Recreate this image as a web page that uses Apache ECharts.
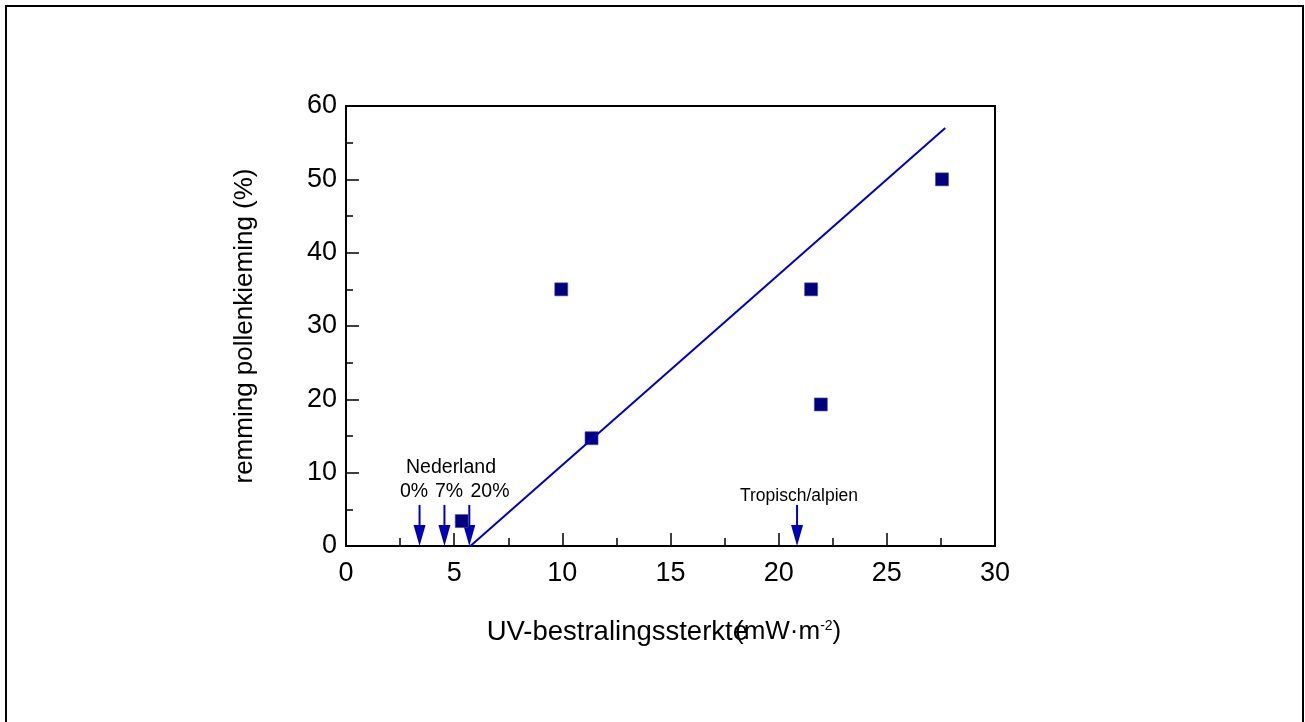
<!DOCTYPE html>
<html>
<head>
<meta charset="utf-8">
<style>
  html, body { margin: 0; padding: 0; background: #fff; }
  #chart { width: 1305px; height: 722px; }
</style>
<script src="https://cdn.jsdelivr.net/npm/echarts@6/dist/echarts.min.js"></script>
</head>
<body>
<div id="chart"></div>
<script>
// measured points (UV irradiance, inhibition %)
var uvValues = [5.35, 9.95, 11.35, 21.5, 21.95, 27.55];
var inhibition = [3.4, 35, 14.7, 35, 19.3, 50];
// fitted line end points
var fitX = [5.75, 27.7];
var fitY = [0, 57];
// arrows on the x axis
var arrowX = [3.4, 4.55, 5.7, 20.85];
var arrowTop = 5.6;

(function() {
  var font = '"Liberation Sans", Arial, sans-serif';
  var chart = echarts.init(document.getElementById('chart'), null, { renderer: 'canvas' });

  var points = uvValues.map(function(x, i) { return [x, inhibition[i]]; });
  var fit = fitX.map(function(x, i) { return [x, fitY[i]]; });

  function label(text, x, y, size, align) {
    return { type: 'text', x: x, y: y,
      style: { text: text, font: size + 'px ' + font, fill: '#000',
               align: align || 'center', verticalAlign: 'middle' } };
  }

  chart.setOption({
    animation: false,
    backgroundColor: '#fff',
    graphic: [
      { type: 'rect', shape: { x: 6, y: 6, width: 1297, height: 740 },
        style: { fill: 'none', stroke: '#000', lineWidth: 2 } },
      label('Nederland', 451, 468, 19.5),
      label('0%', 414, 492, 19.5),
      label('7%', 449, 492, 19.5),
      label('20%', 490, 492, 19.5),
      label('Tropisch/alpien', 799, 496, 17.5),
      // x axis title (the original has "(" overlapping the final "e")
      label('UV-bestralingssterkte', 748, 632, 27.5, 'right'),
      { type: 'text', x: 735, y: 632,
        style: { text: '{t|(mW·m}{s|-2}{t|)}', verticalAlign: 'middle', align: 'left',
          rich: {
            t: { fontSize: 26, fontFamily: font, fill: '#000' },
            s: { fontSize: 14, fontFamily: font, fill: '#000', verticalAlign: 'top', padding: [0, 0, 12, 0] }
          } } }
    ],
    grid: { left: 346, top: 106, width: 649, height: 440, show: true,
            borderColor: '#000', borderWidth: 2, backgroundColor: 'transparent' },
    xAxis: {
      type: 'value', min: 0, max: 30, interval: 5,
      axisLine: { lineStyle: { color: '#000', width: 2 } },
      axisTick: { inside: true, length: 13, lineStyle: { color: '#000', width: 1.5 } },
      minorTick: { show: true, splitNumber: 2, length: 8, lineStyle: { color: '#000', width: 1.5 } },
      axisLabel: { color: '#000', fontSize: 27, fontFamily: font, margin: 14 },
      splitLine: { show: false }
    },
    yAxis: {
      type: 'value', min: 0, max: 60, interval: 10,
      name: 'remming pollenkieming (%)',
      nameLocation: 'middle', nameGap: 88,
      nameTextStyle: { fontSize: 26, fontFamily: font, color: '#000' },
      axisLine: { lineStyle: { color: '#000', width: 2 } },
      axisTick: { inside: true, length: 13, lineStyle: { color: '#000', width: 1.5 } },
      minorTick: { show: true, splitNumber: 2, length: 7, lineStyle: { color: '#000', width: 1.5 } },
      axisLabel: { color: '#000', fontSize: 27, fontFamily: font, margin: 9 },
      splitLine: { show: false }
    },
    series: [
      {
        type: 'line', data: fit, symbol: 'none', silent: true,
        lineStyle: { color: '#0000c8', width: 2 }
      },
      {
        type: 'scatter', data: points, symbol: 'rect', symbolSize: 13,
        itemStyle: { color: '#00007f', opacity: 1, borderColor: '#4a4a9a', borderWidth: 0.6 }
      },
      {
        type: 'custom', silent: true,
        data: arrowX.map(function(x) { return [x, arrowTop]; }),
        renderItem: function(params, api) {
          var top = api.coord([api.value(0), api.value(1)]);
          var base = api.coord([api.value(0), 0]);
          var hw = 6, hh = 21;
          return {
            type: 'group',
            children: [
              { type: 'line', shape: { x1: top[0], y1: top[1], x2: base[0], y2: base[1] - hh + 2 },
                style: { stroke: '#0000b4', lineWidth: 2 } },
              { type: 'polygon', shape: { points: [[base[0] - hw, base[1] - hh], [base[0] + hw, base[1] - hh], [base[0], base[1]]] },
                style: { fill: '#0000b4' } }
            ]
          };
        }
      }
    ]
  });
})();
</script>
</body>
</html>
